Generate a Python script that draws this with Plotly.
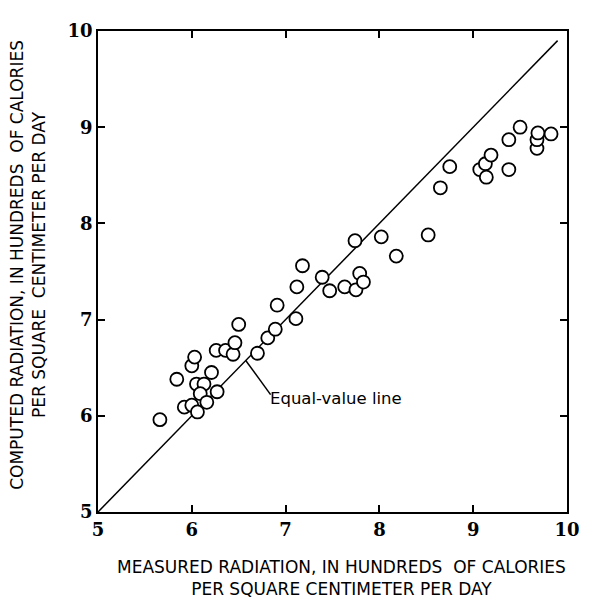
import plotly.graph_objects as go

measured = [5.66, 5.84, 5.92, 6.00, 6.06, 6.00, 6.03, 6.05, 6.13, 6.09, 6.16, 6.21,
            6.27, 6.26, 6.36, 6.44, 6.46, 6.50, 6.70, 6.81, 6.89, 6.91, 7.11, 7.12,
            7.18, 7.39, 7.47, 7.63, 7.75, 7.79, 7.83, 7.74, 8.02, 8.18, 8.52, 8.65,
            8.75, 9.07, 9.13, 9.19, 9.14, 9.38, 9.38, 9.50, 9.68, 9.68, 9.69, 9.83]
computed = [5.96, 6.38, 6.09, 6.11, 6.04, 6.52, 6.61, 6.33, 6.33, 6.23, 6.14, 6.45,
            6.25, 6.68, 6.68, 6.64, 6.76, 6.95, 6.65, 6.81, 6.90, 7.15, 7.01, 7.34,
            7.56, 7.44, 7.30, 7.34, 7.31, 7.48, 7.39, 7.82, 7.86, 7.66, 7.88, 8.37,
            8.59, 8.56, 8.62, 8.71, 8.48, 8.56, 8.87, 9.00, 8.78, 8.87, 8.94, 8.93]
line_x = [5, 9.9]
tick_vals = [5, 6, 7, 8, 9, 10]

fig = go.Figure()
fig.add_trace(go.Scatter(x=line_x, y=line_x, mode="lines",
                         line=dict(color="black", width=1.5), hoverinfo="skip"))
fig.add_trace(go.Scatter(x=measured, y=computed, mode="markers",
                         marker=dict(symbol="circle", size=13, color="white",
                                     line=dict(color="black", width=1.8))))

fig.add_shape(type="line", x0=6.575, y0=6.575, x1=6.84, y1=6.22,
              line=dict(color="black", width=1.5))
fig.add_annotation(x=6.81, y=6.18, text="Equal-value line", showarrow=False,
                   xanchor="left", yanchor="middle",
                   font=dict(family="DejaVu Sans", size=16.5, color="black"))

axis_common = dict(range=[5, 10], tickvals=tick_vals, ticktext=[str(v) for v in tick_vals],
                   ticks="inside", ticklen=7, tickwidth=1.5, tickcolor="black",
                   showline=True, linecolor="black", linewidth=1.8, mirror="ticks",
                   showgrid=False, zeroline=False,
                   tickfont=dict(family="DejaVu Serif", size=18, color="black", weight="bold"))
fig.update_xaxes(**axis_common)
fig.update_yaxes(**axis_common)

fig.add_annotation(xref="paper", yref="paper", x=0.52, y=-0.09,
                   text="MEASURED RADIATION, IN HUNDREDS  OF CALORIES<br>PER SQUARE CENTIMETER PER DAY",
                   showarrow=False, xanchor="center", yanchor="top", align="center",
                   font=dict(family="DejaVu Sans", size=17, color="black"))
fig.add_annotation(xref="paper", yref="paper", x=-0.148, y=0.513,
                   text="COMPUTED RADIATION, IN HUNDREDS  OF CALORIES<br>PER SQUARE  CENTIMETER PER DAY",
                   showarrow=False, xanchor="center", yanchor="middle", align="center",
                   textangle=-90,
                   font=dict(family="DejaVu Sans", size=17, color="black"))

fig.update_layout(width=584, height=593, showlegend=False,
                  margin=dict(l=90, r=20, t=19, b=89),
                  plot_bgcolor="white", paper_bgcolor="white")
fig.write_html("out.html")
